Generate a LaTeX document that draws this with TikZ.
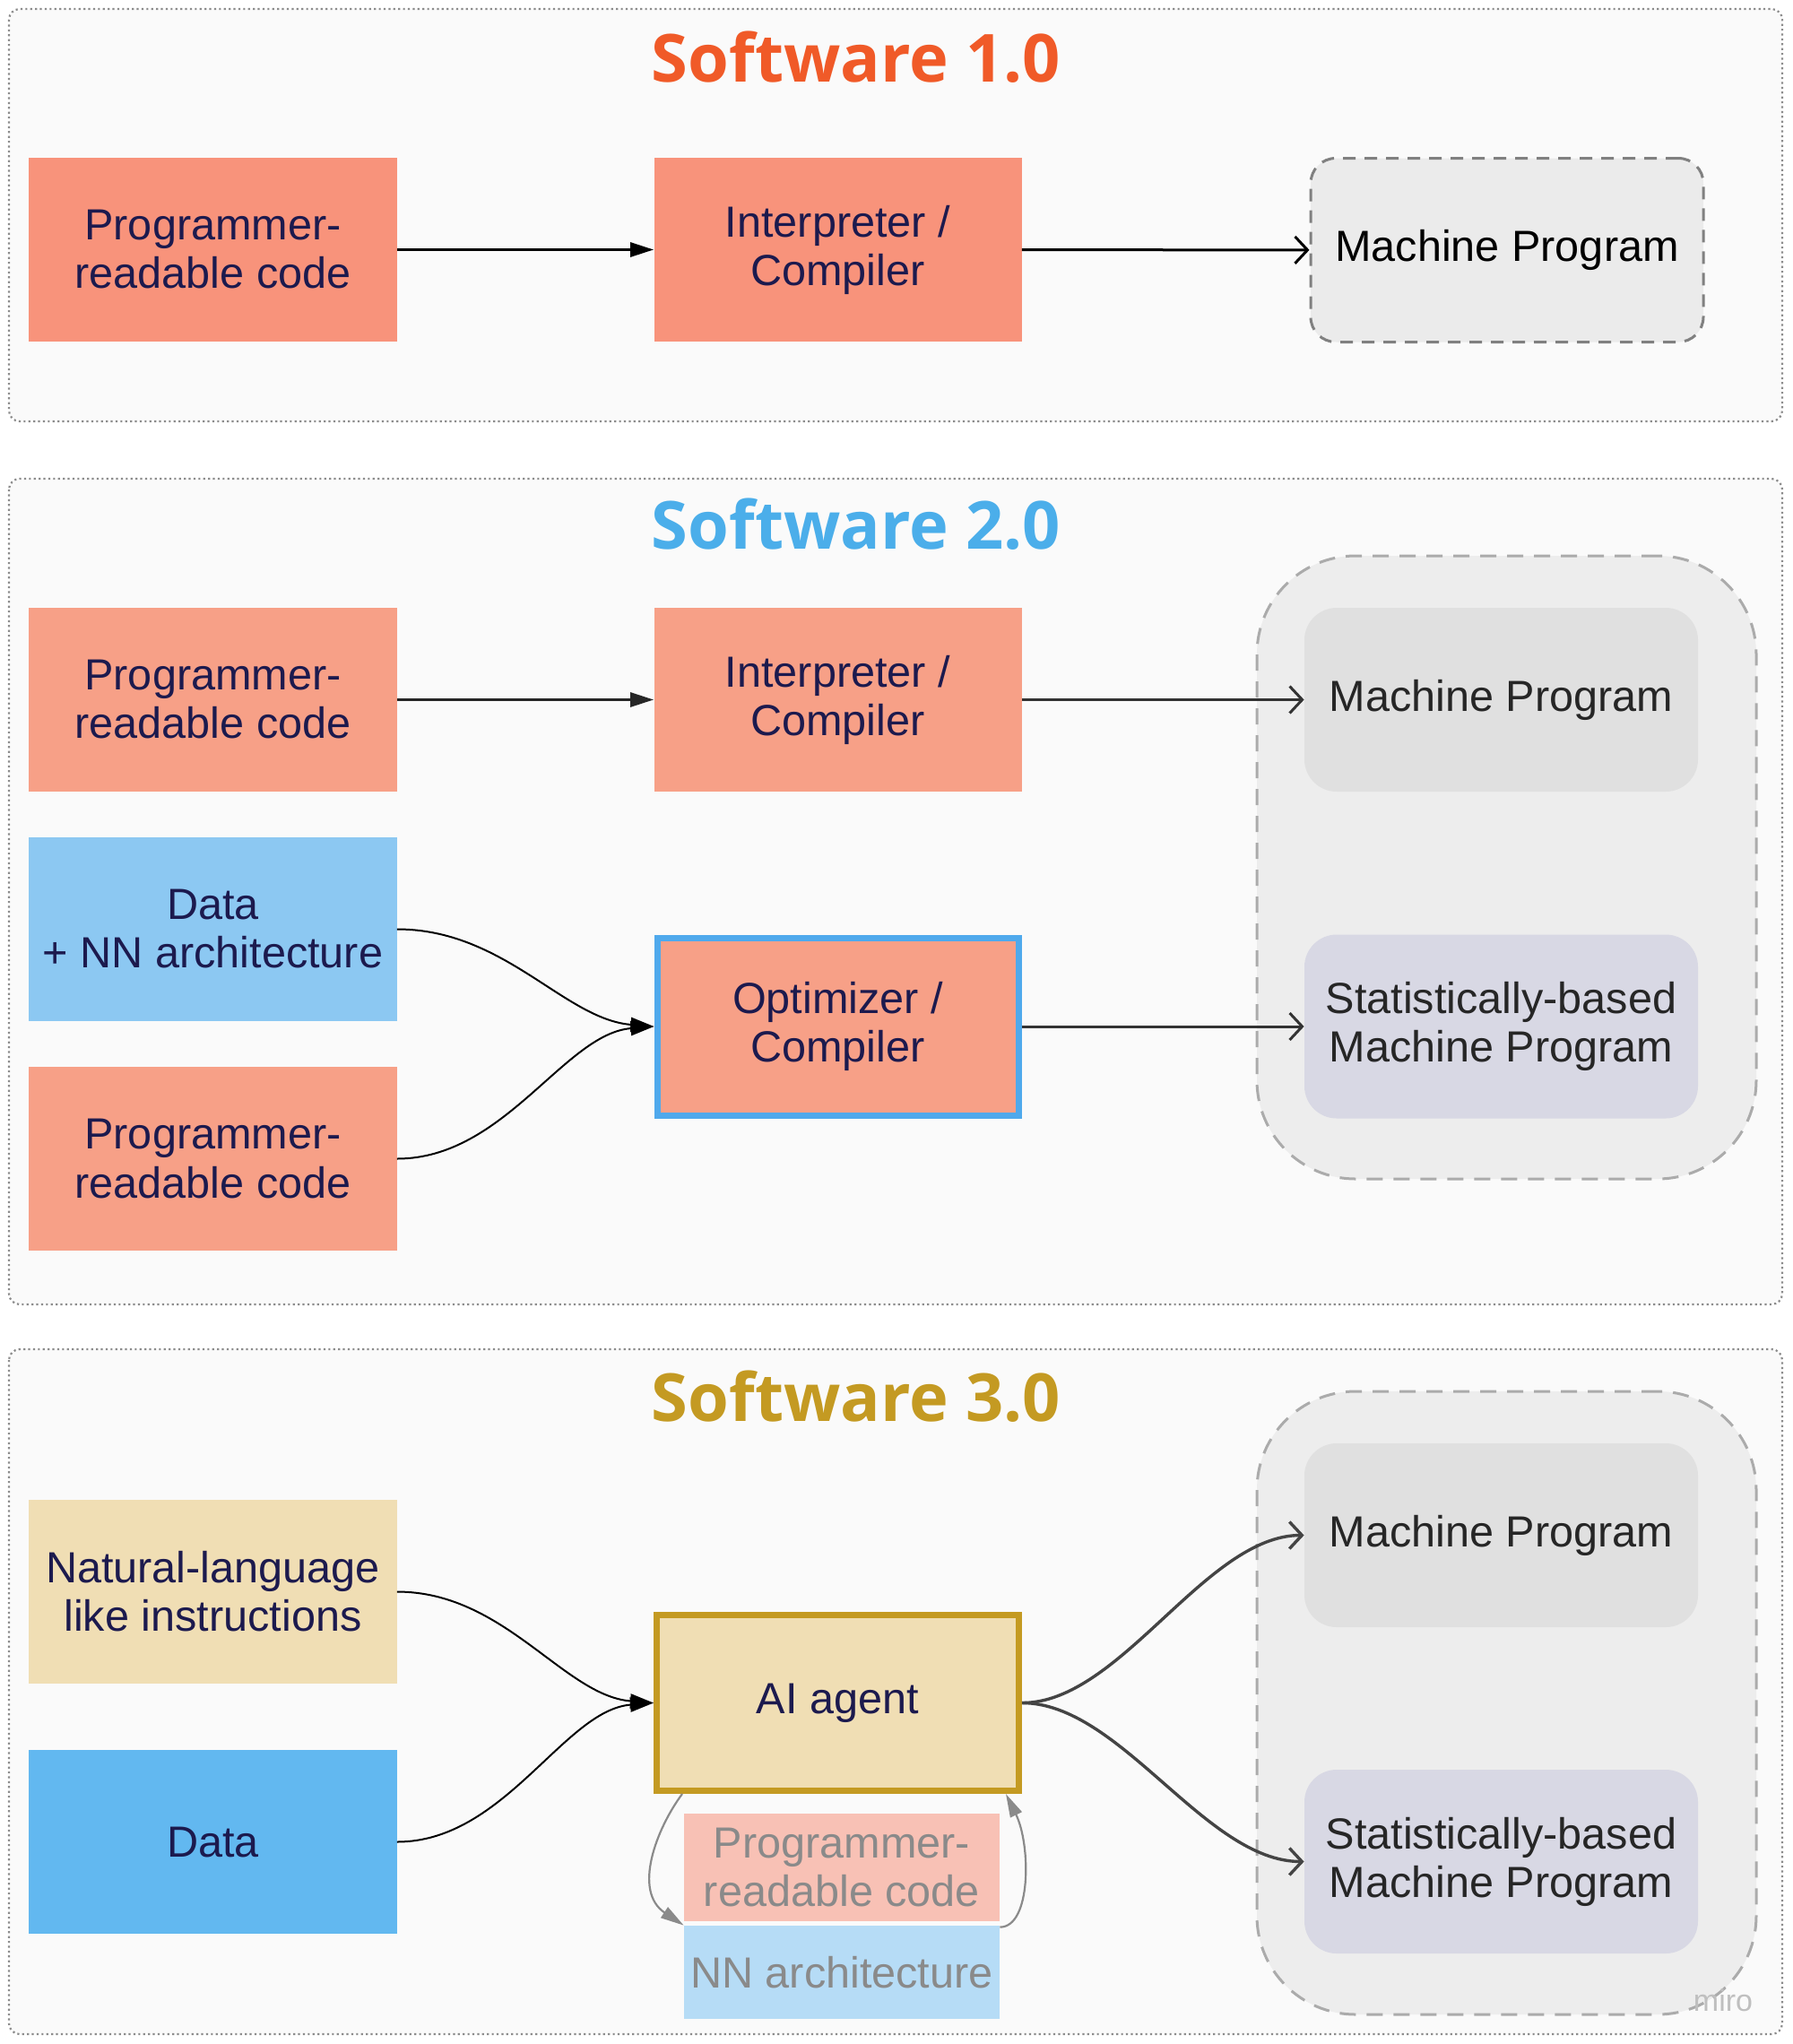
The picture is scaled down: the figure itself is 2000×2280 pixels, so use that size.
\documentclass[tikz,border=0pt]{standalone}
\usepackage{fontspec}
\setmainfont{Liberation Sans}
\newfontfamily\titlefont{Open Sans}
\usetikzlibrary{arrows.meta}
\definecolor{salmonA}{HTML}{F8937B}
\definecolor{salmonB}{HTML}{F7A087}
\definecolor{skyA}{HTML}{8CC8F2}
\definecolor{skyB}{HTML}{62B8F0}
\definecolor{sand}{HTML}{F0DEB4}
\definecolor{gold}{HTML}{C49A22}
\definecolor{optblue}{HTML}{4FA9EC}
\definecolor{navy}{HTML}{1C1A4E}
\definecolor{mp1fill}{HTML}{EBEBEB}
\definecolor{mpfill}{HTML}{E0E0E0}
\definecolor{statfill}{HTML}{D8D8E4}
\definecolor{grpfill}{HTML}{EDEDED}
\definecolor{framefill}{HTML}{FAFAFA}
\definecolor{tcolA}{HTML}{F05A28}
\definecolor{tcolB}{HTML}{4BAEEA}
\definecolor{tcolC}{HTML}{C49A22}
\definecolor{fadesalmon}{HTML}{F8C1B5}
\definecolor{fadesky}{HTML}{B6DCF6}
\definecolor{fadetext}{HTML}{8A8A8A}
\definecolor{darkline}{HTML}{444444}
\newcommand{\lblfont}{\fontsize{24.3bp}{27bp}\selectfont}
\newcommand{\ttlfont}{\titlefont\bfseries\fontsize{37bp}{40bp}\selectfont}
\begin{document}
\begin{tikzpicture}[x=0.5bp,y=-0.5bp,
  frame/.style={draw=black!45, line width=1.1bp, dash pattern=on 1.1bp off 1.6bp, fill=framefill, rounded corners=6bp},
  title/.style={font=\ttlfont},
  box/.style={rectangle, minimum width=205bp, minimum height=102.5bp, inner sep=0pt, align=center, text=navy, font=\lblfont},
  mpbox/.style={box, rounded corners=18bp, text=black!85, minimum width=219.5bp},
  group/.style={draw=black!33, line width=1.5bp, dash pattern=on 9bp off 6bp, fill=grpfill, rounded corners=55bp},
  arr/.style={line width=1bp, draw=black, -{Triangle[length=13bp,width=8bp]}},
  sarr/.style={line width=1.4bp, draw=black!85, -{Triangle[length=13bp,width=8bp]}},
  oarr/.style={line width=1.5bp, draw=black!80, -{Straight Barb[length=7bp,width=15bp]}},
  garr/.style={line width=1.1bp, draw=fadetext, -{Triangle[length=13bp,width=7bp]}}
]
\useasboundingbox (0,0) rectangle (2000,2280);

% ---------- Software 1.0 ----------
\draw[frame] (10,10) rectangle (1988,470);
\node[title, text=tcolA] (t1) at (955,64) {Software 1.0};
\node[box, fill=salmonA] (p1) at (237.5,278.5) {Programmer-\\readable code};
\node[box, fill=salmonA] (i1) at (934.5,278.5) {Interpreter /\\Compiler};
\node[box, fill=mp1fill, text=black, minimum width=219bp, rounded corners=14bp,
      draw=black!50, line width=1.5bp, dash pattern=on 7bp off 5bp] (m1) at (1681,279) {Machine Program};
\draw[sarr, draw=black] (p1) -- (i1);
\draw[oarr, draw=black] (i1) -- (m1);

% ---------- Software 2.0 ----------
\draw[frame] (10,534) rectangle (1988,1455);
\node[title, text=tcolB] (t2) at (955,585) {Software 2.0};
\node[group, minimum width=278.5bp, minimum height=347.5bp] (g2) at (1680.5,967.5) {};
\node[box, fill=salmonB] (p2) at (237.5,780.5) {Programmer-\\readable code};
\node[box, fill=salmonB] (i2) at (934.5,780.5) {Interpreter /\\Compiler};
\node[box, fill=skyA] (d2) at (237.5,1036.5) {Data\\+ NN architecture};
\node[box, fill=salmonB] (q2) at (237.5,1292.5) {Programmer-\\readable code};
\node[box, fill=salmonB, draw=optblue, line width=3.5bp, minimum width=201.5bp, minimum height=99bp] (o2) at (934.5,1145) {Optimizer /\\Compiler};
\node[mpbox, fill=mpfill] (m2) at (1674.5,780.5) {Machine Program};
\node[mpbox, fill=statfill] (s2) at (1674.5,1145) {Statistically-based\\Machine Program};
\draw[sarr] (p2) -- (i2);
\draw[oarr] (i2) -- (m2);
\draw[oarr] (o2) -- (s2);
\draw[arr] (d2.east) .. controls +(120,0) and +(-100,-8) .. (o2.west);
\draw[arr] (q2.east) .. controls +(120,0) and +(-100,8) .. (o2.west);

% ---------- Software 3.0 ----------
\draw[frame] (10,1505) rectangle (1988,2269);
\node[title, text=tcolC] (t3) at (955,1558) {Software 3.0};
\node[group, minimum width=278.5bp, minimum height=347.5bp] (g3) at (1680.5,1899.5) {};
\node[box, fill=sand] (n3) at (237.5,1775.5) {Natural-language\\like instructions};
\node[box, fill=skyB] (d3) at (237.5,2054.5) {Data};
\node[box, fill=sand, draw=gold, line width=3.5bp, minimum width=202bp, minimum height=98bp] (a3) at (934.5,1899.5) {AI agent};
\node[box, fill=fadesalmon, text=fadetext, minimum width=176bp, minimum height=60bp] (pr3) at (939,2083) {Programmer-\\readable code};
\node[box, fill=fadesky, text=fadetext, minimum width=176bp, minimum height=52bp] (nn3) at (939,2200) {NN architecture};
\node[mpbox, fill=mpfill] (m3) at (1674.5,1712.5) {Machine Program};
\node[mpbox, fill=statfill] (s3) at (1674.5,2076.5) {Statistically-based\\Machine Program};
\draw[arr] (n3.east) .. controls +(120,0) and +(-100,-8) .. (a3.west);
\draw[arr] (d3.east) .. controls +(120,0) and +(-100,8) .. (a3.west);
\draw[oarr, line width=1.7bp, draw=darkline] (a3.east) .. controls +(110,0) and +(-110,0) .. (m3.west);
\draw[oarr, line width=1.7bp, draw=darkline] (a3.east) .. controls +(110,0) and +(-110,0) .. (s3.west);
\draw[garr] ([xshift=16bp]a3.south west) .. controls +(-29,39) and +(-57,-38) .. (nn3.north west);
\draw[garr] ([yshift=-1bp]nn3.north east) .. controls +(35,0) and +(28,57) .. ([xshift=-9bp]a3.south east);
\node[text=black!25, font=\fontsize{17bp}{18bp}\selectfont, anchor=center] (wm) at (1922,2231) {miro};
\end{tikzpicture}
\end{document}
